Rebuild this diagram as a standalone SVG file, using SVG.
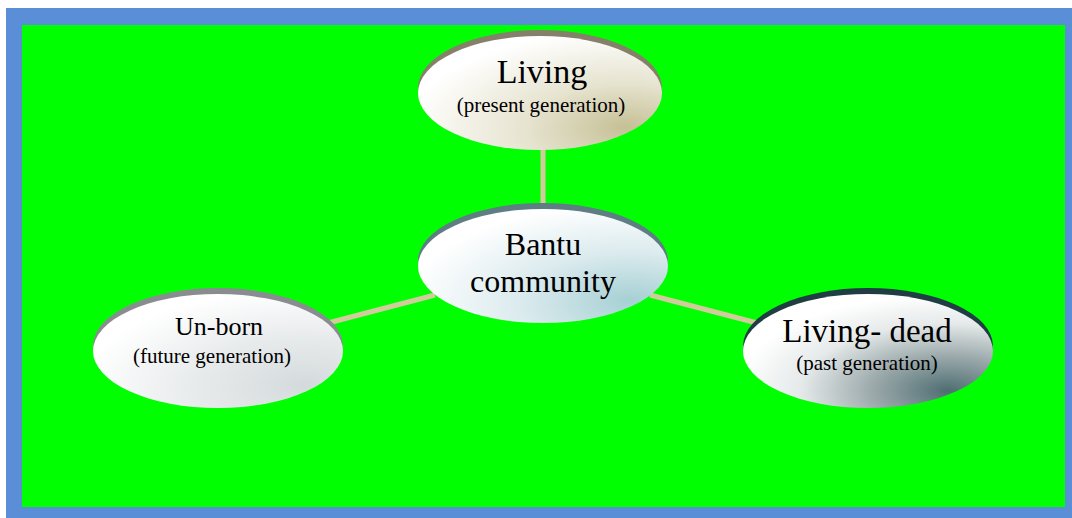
<svg xmlns="http://www.w3.org/2000/svg" width="1072" height="518" viewBox="0 0 1072 518">
<style>
text{font-family:"Liberation Serif","Times New Roman",serif;fill:#000;text-anchor:middle}
.big{font-size:34px}
.bantu{font-size:32px}
.ld{font-size:33px}
.mid{font-size:26px}
.small{font-size:21px}
.conn{stroke:#d2cc9c;stroke-width:5;fill:none}
</style>
<defs>
<radialGradient id="gLiving" cx="0.85" cy="0.85" r="0.9" fx="0.85" fy="0.8">
<stop offset="0" stop-color="#c6c096"/><stop offset="0.45" stop-color="#e6e3cf"/><stop offset="1" stop-color="#ffffff"/>
</radialGradient>
<radialGradient id="gBantu" cx="0.85" cy="0.85" r="0.9" fx="0.85" fy="0.8">
<stop offset="0" stop-color="#a6d0d4"/><stop offset="0.5" stop-color="#dcebee"/><stop offset="1" stop-color="#ffffff"/>
</radialGradient>
<radialGradient id="gUnborn" cx="0.85" cy="0.85" r="0.9" fx="0.85" fy="0.8">
<stop offset="0" stop-color="#d4dadc"/><stop offset="0.5" stop-color="#e8ebec"/><stop offset="1" stop-color="#ffffff"/>
</radialGradient>
<radialGradient id="gDead" cx="0.82" cy="0.85" r="0.85" fx="0.82" fy="0.85">
<stop offset="0" stop-color="#4e6e72"/><stop offset="0.35" stop-color="#9aa8aa"/><stop offset="0.7" stop-color="#e6eaea"/><stop offset="1" stop-color="#ffffff"/>
</radialGradient>
</defs>
<rect x="6" y="8" width="1066" height="510" fill="#5a8ed6"/>
<rect x="22" y="25" width="1043" height="482" fill="#00ff00"/>
<g id="connectors">
<line class="conn" x1="543" y1="148" x2="543" y2="210"/>
<line class="conn" x1="435" y1="295" x2="328" y2="323"/>
<line class="conn" x1="650" y1="295" x2="757" y2="323"/>
</g>
<g id="node-living">
<ellipse cx="540" cy="88" rx="122" ry="58" fill="#86806a"/>
<ellipse cx="540" cy="93" rx="122" ry="57" fill="url(#gLiving)"/>
<text class="big" x="542" y="83">Living</text>
<text class="small" x="541" y="112">(present generation)</text>
</g>
<g id="node-bantu">
<ellipse cx="543" cy="261" rx="125" ry="58" fill="#5f7e84"/>
<ellipse cx="543" cy="266" rx="125" ry="57" fill="url(#gBantu)"/>
<text class="bantu" x="543" y="255">Bantu</text>
<text class="bantu" x="543" y="292">community</text>
</g>
<g id="node-unborn">
<ellipse cx="218" cy="346" rx="125" ry="58" fill="#8a8d90"/>
<ellipse cx="218" cy="351" rx="125" ry="57" fill="url(#gUnborn)"/>
<text class="mid" x="219" y="335">Un-born</text>
<text class="small" x="212" y="363">(future generation)</text>
</g>
<g id="node-livingdead">
<ellipse cx="868" cy="346" rx="125" ry="58" fill="#1f3d42"/>
<ellipse cx="868" cy="351" rx="125" ry="57" fill="url(#gDead)"/>
<text class="ld" x="867" y="342">Living- dead</text>
<text class="small" x="867" y="370">(past generation)</text>
</g>
</svg>
